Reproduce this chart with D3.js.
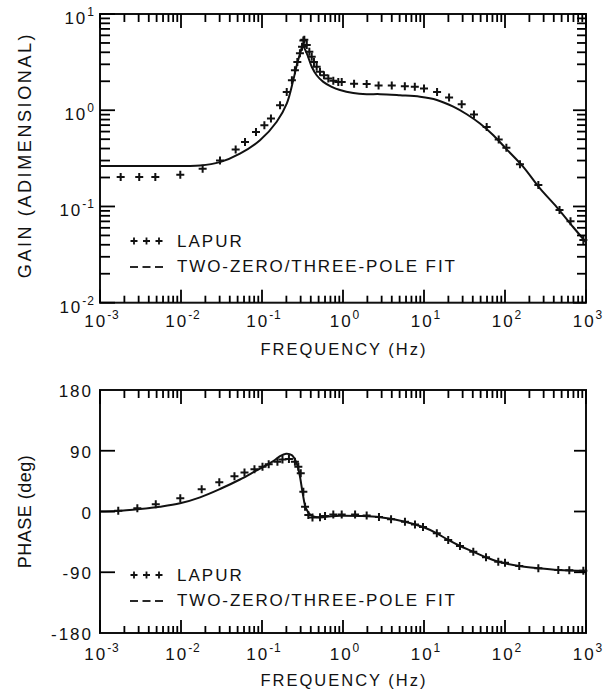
<!DOCTYPE html>
<html>
<head>
<meta charset="utf-8">
<script src="https://cdn.jsdelivr.net/npm/d3@7"></script>
<style>
  html, body { margin: 0; padding: 0; background: #fff; }
  svg { display: block; }
  text { font-family: "Liberation Sans", Arial, sans-serif; fill: #111; }
</style>
</head>
<body>
<svg id="chart" width="607" height="693"></svg>
<script>
// ---- axis definitions ----
const freqExponents = [-3, -2, -1, 0, 1, 2, 3];
const gainExponents = [-2, -1, 0, 1];
const phaseTicks = [-180, -90, 0, 90, 180];
const phaseInnerTicks = [-90, 0, 90];
const legendLabels = ["LAPUR", "TWO-ZERO/THREE-POLE FIT"];

// ---- LAPUR gain (frequency Hz, gain) ----
const lapurGain = [
  [0.0018, 0.202], [0.00305, 0.202], [0.00482, 0.202], [0.0098, 0.214],
  [0.0185, 0.247], [0.0303, 0.301], [0.0473, 0.39], [0.0617, 0.468],
  [0.0843, 0.594], [0.107, 0.698], [0.129, 0.82], [0.167, 1.13],
  [0.202, 1.55], [0.234, 2.05], [0.255, 2.61], [0.273, 3.18],
  [0.294, 3.9], [0.312, 4.56], [0.324, 5.3], [0.333, 5.4],
  [0.357, 4.75], [0.384, 4.05], [0.411, 3.59], [0.438, 3.18],
  [0.473, 2.83], [0.52, 2.51], [0.582, 2.31], [0.659, 2.14],
  [0.759, 2.02], [0.875, 1.97], [0.964, 1.96], [1.37, 1.88],
  [1.96, 1.87], [2.75, 1.81], [4.0, 1.81], [5.8, 1.78],
  [7.7, 1.75], [10, 1.68], [14.5, 1.55], [20.4, 1.36],
  [29.2, 1.155], [41.4, 0.902], [59.4, 0.67], [83.6, 0.495],
  [104, 0.407], [153, 0.274], [258, 0.1675], [471, 0.092],
  [644, 0.0703], [927, 0.0448]
];

// ---- two-zero/three-pole fit, gain ----
const fitGain = [
  [0.001, 0.263], [0.0097, 0.264], [0.0172, 0.266], [0.0303, 0.289],
  [0.0534, 0.354], [0.0944, 0.487], [0.152, 0.759], [0.202, 1.17],
  [0.243, 2.05], [0.273, 3.09], [0.30, 4.05], [0.318, 4.64],
  [0.357, 3.9], [0.411, 2.83], [0.473, 2.31], [0.571, 1.97],
  [0.725, 1.75], [0.918, 1.62], [1.34, 1.51], [1.96, 1.47],
  [2.86, 1.47], [5.06, 1.43], [8.93, 1.38], [14.4, 1.28],
  [23, 1.09], [33.7, 0.908], [49.1, 0.727], [71.8, 0.549],
  [105, 0.392], [168, 0.258], [270, 0.154], [435, 0.0984],
  [697, 0.0608], [1000, 0.0425]
];

// ---- LAPUR phase (frequency Hz, degrees) ----
const lapurPhase = [
  [0.00168, 1.2], [0.00289, 4.7], [0.00488, 10.7], [0.0098, 19.6],
  [0.018, 32.9], [0.0297, 43.4], [0.0457, 52.1], [0.0608, 57.8],
  [0.0807, 62.5], [0.1014, 66.4], [0.121, 70.1], [0.155, 73.8],
  [0.179, 76.9], [0.215, 77.8], [0.255, 73.8], [0.281, 66.4],
  [0.301, 56.6], [0.324, 29.3], [0.34, 7.1], [0.373, -5.2],
  [0.42, -8.9], [0.52, -8.6], [0.6, -6.7], [0.759, -4.4],
  [0.964, -4.4], [1.41, -4.4], [1.96, -5.9], [2.78, -8.1],
  [3.92, -11.6], [5.82, -15.1], [7.74, -19.3], [9.72, -23],
  [14.4, -32.3], [19.9, -42.2], [27.8, -51.1], [40.6, -59.6],
  [58.3, -67.9], [82.6, -74.4], [100, -75.9], [150, -80.7],
  [258, -84.1], [455, -86.7], [622, -87.1], [927, -87.7]
];

// ---- two-zero/three-pole fit, phase ----
const fitPhase = [
  [0.001, 0], [0.0016, 0.7], [0.00312, 3.7], [0.0055, 7.1],
  [0.00972, 12.1], [0.0172, 21], [0.0303, 33.3], [0.0534, 47.4],
  [0.0861, 61], [0.138, 74.5], [0.167, 82], [0.198, 85.5],
  [0.233, 83.5], [0.263, 73.8], [0.289, 56.6], [0.318, 27],
  [0.349, 4.7], [0.399, -5.2], [0.473, -8.6], [0.63, -7.7],
  [0.918, -6.2], [1.62, -6.7], [2.86, -8.6], [5.82, -15.1],
  [9.72, -23], [14.4, -32.3], [19.9, -42.2], [27.8, -51.1],
  [40.6, -59.6], [58.3, -67.9], [82.6, -74.4], [150, -80.7],
  [258, -84.1], [455, -86.7], [1000, -87.9]
];

// ---- layout ----
const svg = d3.select("#chart");
const ink = "#111";
const xLeft = 100, xRight = 586;
const gainTop = 14, gainBottom = 302.7;
const phaseTop = 390, phaseBottom = 633;

const x = d3.scaleLog().domain([1e-3, 1e3]).range([xLeft, xRight]);
const yGain = d3.scaleLog().domain([1e-2, 1e1]).range([gainBottom, gainTop]);
const yPhase = d3.scaleLinear().domain([-180, 180]).range([phaseBottom, phaseTop]);

const freqMajors = freqExponents.map(e => Math.pow(10, e));
const freqMinors = [];
freqExponents.slice(0, -1).forEach(e => {
  for (let k = 2; k <= 9; k++) freqMinors.push(k * Math.pow(10, e));
});
const gainMajors = gainExponents.map(e => Math.pow(10, e));
const gainMinors = [];
gainExponents.slice(0, -1).forEach(e => {
  for (let k = 2; k <= 9; k++) gainMinors.push(k * Math.pow(10, e));
});

// inward tick marks as thin filled bars, positioned through the scales
function tickBars(top, bottom, yScale, yMinors, yMajors, leftLen, rightLen, yMinorLen) {
  const bars = [];
  freqMinors.forEach(f => {
    bars.push({ x: x(f) - 0.9, y: bottom - 7, w: 1.8, h: 7 });
    bars.push({ x: x(f) - 0.9, y: top, w: 1.8, h: 8 });
  });
  freqMajors.forEach(f => {
    bars.push({ x: x(f) - 0.9, y: bottom - 13, w: 1.8, h: 13 });
    bars.push({ x: x(f) - 0.9, y: top, w: 1.8, h: 14 });
  });
  yMinors.forEach(v => {
    bars.push({ x: xLeft, y: yScale(v) - 0.9, w: yMinorLen, h: 1.8 });
    bars.push({ x: xRight - yMinorLen + 1, y: yScale(v) - 0.9, w: yMinorLen - 1, h: 1.8 });
  });
  yMajors.forEach(v => {
    bars.push({ x: xLeft, y: yScale(v) - 0.9, w: leftLen, h: 1.8 });
    bars.push({ x: xRight - rightLen, y: yScale(v) - 0.9, w: rightLen, h: 1.8 });
  });
  svg.append("g").attr("class", "tick-bars")
    .selectAll("rect").data(bars).join("rect")
    .attr("x", d => d.x).attr("y", d => d.y)
    .attr("width", d => d.w).attr("height", d => d.h)
    .attr("fill", "#000");
}

function frame(top, bottom) {
  svg.append("rect")
    .attr("x", xLeft).attr("y", top)
    .attr("width", xRight - xLeft).attr("height", bottom - top)
    .attr("fill", "none").attr("stroke", ink).attr("stroke-width", 2);
}

function freqLabels(baseline) {
  freqExponents.forEach(e => {
    const t = svg.append("text")
      .attr("x", x(Math.pow(10, e)) + 2).attr("y", baseline)
      .attr("text-anchor", "middle")
      .style("font-size", "17px").style("letter-spacing", "2px");
    t.append("tspan").text("10");
    t.append("tspan").attr("dy", -8).style("font-size", "12px").style("letter-spacing", "1px")
      .text(e < 0 ? "-" + Math.abs(e) : String(e));
  });
}

function axisTitle(tx, ty, rotate, label, size, spacing) {
  svg.append("text")
    .attr("transform", `translate(${tx},${ty})` + (rotate ? " rotate(-90)" : ""))
    .attr("text-anchor", "middle")
    .style("font-size", size + "px")
    .style("letter-spacing", spacing + "px")
    .text(label);
}

const plusPath = s => `M${-s},0H${s}M0,${-s}V${s}`;

function drawMarkers(data, yScale) {
  svg.append("g").selectAll("path").data(data).join("path")
    .attr("transform", d => `translate(${x(d[0])},${yScale(d[1])})`)
    .attr("d", plusPath(4))
    .attr("stroke", ink).attr("stroke-width", 2).attr("fill", "none");
}

function drawFit(data, yScale) {
  const lineGen = d3.line()
    .x(d => x(d[0])).y(d => yScale(d[1]))
    .curve(d3.curveCatmullRom.alpha(0.5));
  svg.append("path").datum(data)
    .attr("d", lineGen)
    .attr("fill", "none").attr("stroke", ink).attr("stroke-width", 2);
}

function legend(x0, yPlus, yDash) {
  [0, 1, 2].forEach(i => {
    svg.append("path")
      .attr("transform", `translate(${x0 + 4 + i * 12.5},${yPlus})`)
      .attr("d", plusPath(3.5))
      .attr("fill", "none").attr("stroke", ink).attr("stroke-width", 1.8);
    svg.append("path")
      .attr("d", `M${x0 + i * 12.5},${yDash}h8`)
      .attr("fill", "none").attr("stroke", ink).attr("stroke-width", 1.8);
  });
  svg.append("text").attr("x", x0 + 47).attr("y", yPlus + 6)
    .style("font-size", "17px").style("letter-spacing", "2px").text(legendLabels[0]);
  svg.append("text").attr("x", x0 + 47).attr("y", yDash + 5)
    .style("font-size", "17px").style("letter-spacing", "1.9px").text(legendLabels[1]);
}

// ================= GAIN PANEL =================
frame(gainTop, gainBottom);

gainExponents.forEach(e => {
  const t = svg.append("text")
    .attr("x", 95).attr("y", yGain(Math.pow(10, e)) + 10)
    .attr("text-anchor", "end")
    .style("font-size", "17px").style("letter-spacing", "2px");
  t.append("tspan").text("10");
  t.append("tspan").attr("dy", -8).style("font-size", "12px").style("letter-spacing", "1px")
    .text(e < 0 ? "-" + Math.abs(e) : String(e));
});
freqLabels(gainBottom + 24);
axisTitle(344, 355, false, "FREQUENCY (Hz)", 16.5, 2);
axisTitle(31, 155, true, "GAIN (ADIMENSIONAL)", 18, 2.6);

drawFit(fitGain, yGain);
drawMarkers(lapurGain, yGain);
legend(130, 241, 267);

// ================= PHASE PANEL =================
frame(phaseTop, phaseBottom);

phaseTicks.forEach(v => {
  svg.append("text")
    .attr("x", 93).attr("y", yPhase(v) + 7)
    .attr("text-anchor", "end")
    .style("font-size", "17px").style("letter-spacing", "2px")
    .text(v < 0 ? "-" + Math.abs(v) : String(v));
});
freqLabels(phaseBottom + 27);
axisTitle(344, 686, false, "FREQUENCY (Hz)", 16.5, 2);
axisTitle(31, 511.5, true, "PHASE (deg)", 18, 0.5);

drawFit(fitPhase, yPhase);
drawMarkers(lapurPhase, yPhase);
legend(130, 575, 601);

// ================= TICK MARKS (drawn on top) =================
tickBars(gainTop, gainBottom, yGain, gainMinors, gainMajors, 15, 13, 10);
tickBars(phaseTop, phaseBottom, yPhase, [], phaseInnerTicks, 15, 12, 0);
</script>
</body>
</html>
